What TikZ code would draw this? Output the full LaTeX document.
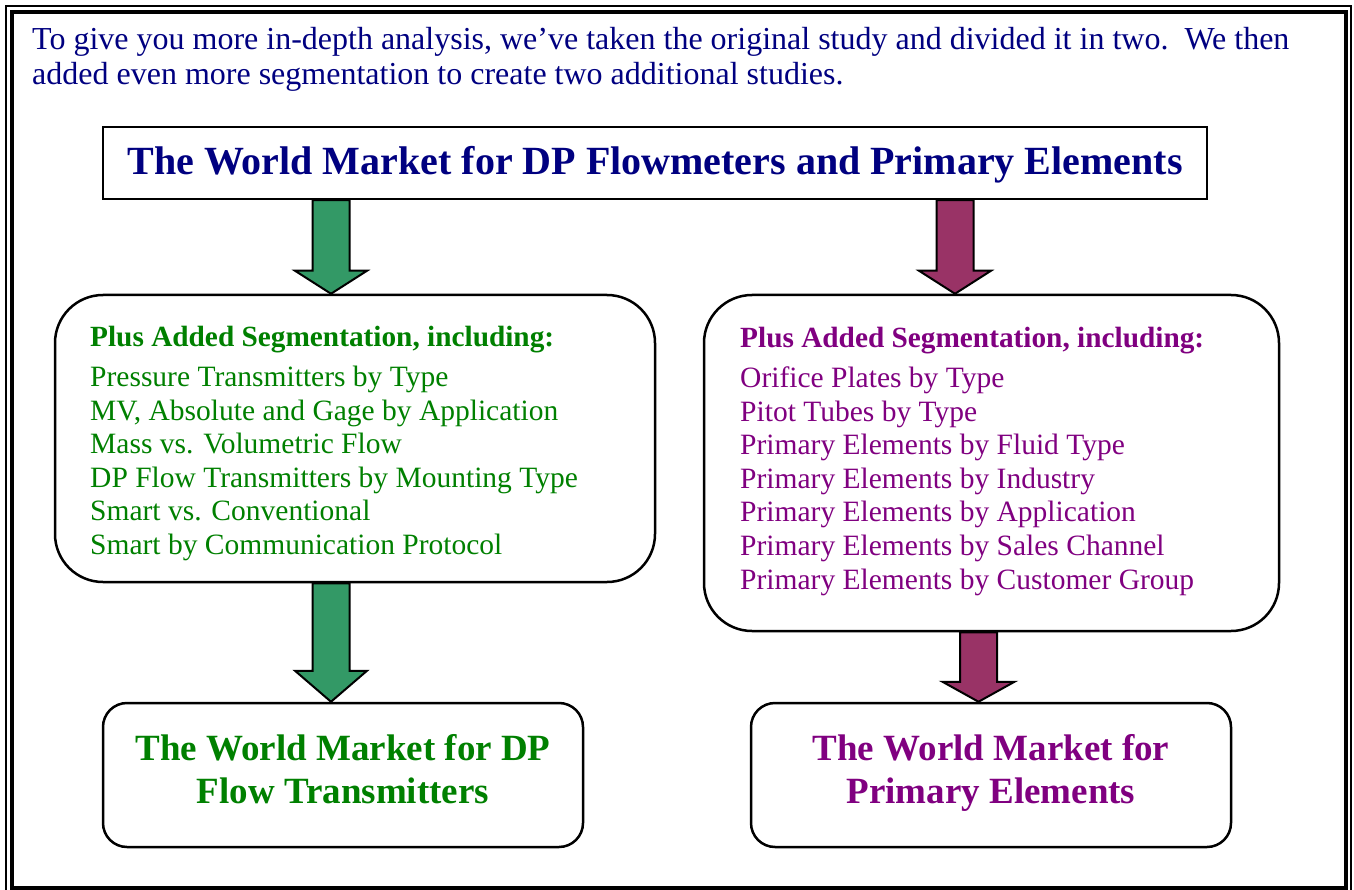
\documentclass[tikz,border=0pt]{standalone}
\usepackage{fontspec}
\setmainfont{Liberation Serif}
\usetikzlibrary{calc}
\usetikzlibrary{positioning}

\definecolor{navytext}{RGB}{0,0,128}
\definecolor{greentext}{RGB}{0,128,0}
\definecolor{purpletext}{RGB}{128,0,128}
\definecolor{greenarrow}{RGB}{51,153,102}
\definecolor{purplearrow}{RGB}{153,51,102}

% block arrow: start point, tip point, head length, fill colour
\newcommand{\fatarrow}[4]{%
  \draw[line width=2pt, line join=miter, fill=#4] let \p1=(#1), \p2=(#2) in
    (\x1-18.5pt,\y1) -- (\x1+18.5pt,\y1) -- (\x1+18.5pt,\y2+#3) -- (\x1+36pt,\y2+#3)
    -- (\x1,\y2) -- (\x1-36pt,\y2+#3) -- (\x1-18.5pt,\y2+#3) -- cycle;
}

\begin{document}
\begin{tikzpicture}[x=1pt, y=-1pt,
  segbox/.style={draw, line width=2.5pt, rounded corners=48pt, inner sep=0pt},
  mktbox/.style={draw, line width=2.5pt, rounded corners=24pt, inner sep=0pt,
    minimum width=480pt, minimum height=144pt, align=center, text depth=12pt,
    font=\fontsize{37}{43}\selectfont\bfseries},
  listtext/.style={anchor=base west, inner sep=0pt, font=\fontsize{29.5}{33.6}\selectfont}]

  \useasboundingbox (0,0) rectangle (1354,890);

  % double frame
  \draw[line width=2pt] (6,6) rectangle (1351,896);
  \draw[line width=3.5pt] (12,12) rectangle (1346,888);

  \node[listtext, text=navytext, font=\fontsize{32}{35}\selectfont] (intro1) at (32,50)
    {To give you more in-depth analysis, we’ve taken the original study and divided it in two.\ \ We then};
  \node[listtext, text=navytext, font=\fontsize{32}{35}\selectfont] (intro2) at (32,85)
    {added even more segmentation to create two additional studies.};

  \node[draw, line width=2.5pt, minimum width=1104pt, minimum height=72pt, inner sep=0pt,
    text height=30pt, text depth=6pt,
    text=navytext, font=\fontsize{40}{48}\selectfont\bfseries] (title) at (655,163)
    {The World Market for DP Flowmeters and Primary Elements};

  \node[segbox, minimum width=600pt, minimum height=287pt] (segL) at (355,438.5) {};
  \node[segbox, minimum width=575pt, minimum height=336pt] (segR) at (991.5,463) {};

  \node[listtext, text=greentext, font=\fontsize{29.3}{33.6}\selectfont\bfseries] (headL) at (90,347)
    {Plus Added Segmentation, including:};
  \foreach \i/\txt in {0/Pressure Transmitters by Type, 1/{MV, Absolute and Gage by Application},
      2/Mass vs. Volumetric Flow, 3/DP Flow Transmitters by Mounting Type,
      4/Smart vs. Conventional, 5/Smart by Communication Protocol} {
    \node[listtext, text=greentext] (itemL\i) at (90,386.5+33.6*\i) {\txt};
  }

  \node[listtext, text=purpletext, font=\fontsize{29.3}{33.6}\selectfont\bfseries] (headR) at (740,348)
    {Plus Added Segmentation, including:};
  \foreach \i/\txt in {0/Orifice Plates by Type, 1/Pitot Tubes by Type,
      2/Primary Elements by Fluid Type, 3/Primary Elements by Industry,
      4/Primary Elements by Application, 5/Primary Elements by Sales Channel,
      6/Primary Elements by Customer Group} {
    \node[listtext, text=purpletext] (itemR\i) at (740,387.5+33.6*\i) {\txt};
  }

  \node[mktbox, text=greentext] (mktL) at (343,775) {The World Market for DP\\Flow Transmitters};
  \node[mktbox, text=purpletext] (mktR) at (991,775) {The World Market for\\Primary Elements};

  % arrows
  \coordinate (gx) at (331,0);
  \coordinate (px) at (955,0);
  \coordinate (qx) at (978.5,0);
  \fatarrow{title.south -| gx}{segL.north -| gx}{23pt}{greenarrow}
  \fatarrow{title.south -| px}{segR.north -| px}{23pt}{purplearrow}
  \fatarrow{segL.south -| gx}{mktL.north -| gx}{31pt}{greenarrow}
  \fatarrow{segR.south -| qx}{mktR.north -| qx}{20pt}{purplearrow}

\end{tikzpicture}
\end{document}
